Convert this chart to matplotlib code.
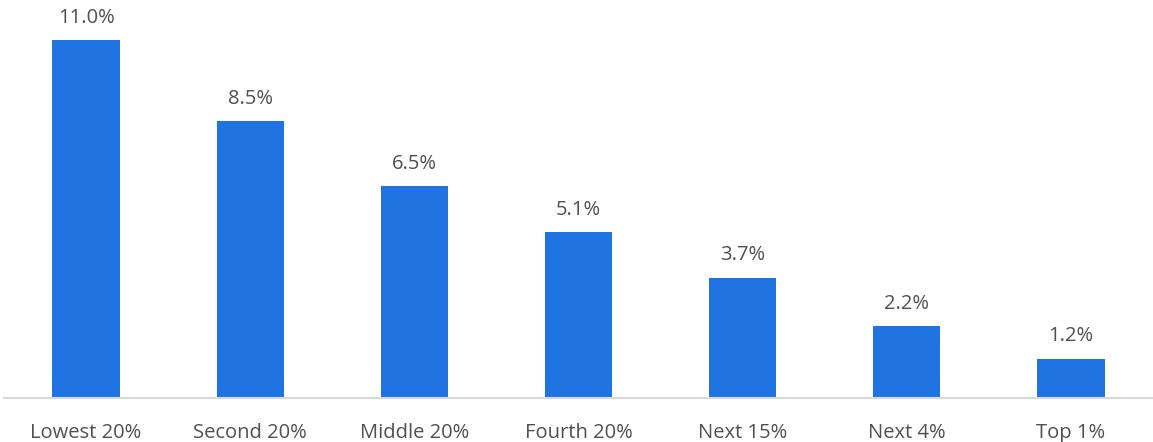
import numpy as np
import matplotlib.pyplot as plt

categories = ['Lowest 20%', 'Second 20%', 'Middle 20%', 'Fourth 20%', 'Next 15%', 'Next 4%', 'Top 1%']
values = [11.0, 8.5, 6.5, 5.1, 3.7, 2.2, 1.2]

plt.rcParams['font.family'] = ['Open Sans', 'DejaVu Sans']

fig = plt.figure(figsize=(11.53, 4.42), dpi=100)
ax = fig.add_axes([4 / 1153, 44 / 442, 1149 / 1153, 398 / 442])

x = np.arange(len(categories))
bars = ax.bar(x, values, width=0.41, color='#1F74E1')

for b, v in zip(bars, values):
    ax.annotate('%.1f%%' % v, (b.get_x() + b.get_width() / 2, v),
                xytext=(0, 9), textcoords='offset points',
                ha='center', va='bottom', fontsize=14.5, color='#505050')

ax.set_xlim(-0.5, len(categories) - 0.5)
ax.set_ylim(0, 12.23)
ax.set_xticks(x)
ax.set_xticklabels(categories, fontsize=14.5, color='#505050')
ax.tick_params(axis='x', length=0, pad=18)
ax.set_yticks([])
for s in ['top', 'right', 'left']:
    ax.spines[s].set_visible(False)
ax.spines['bottom'].set_color('#D9D9D9')
ax.spines['bottom'].set_linewidth(1.5)

fig.savefig('out.png', dpi=100)
